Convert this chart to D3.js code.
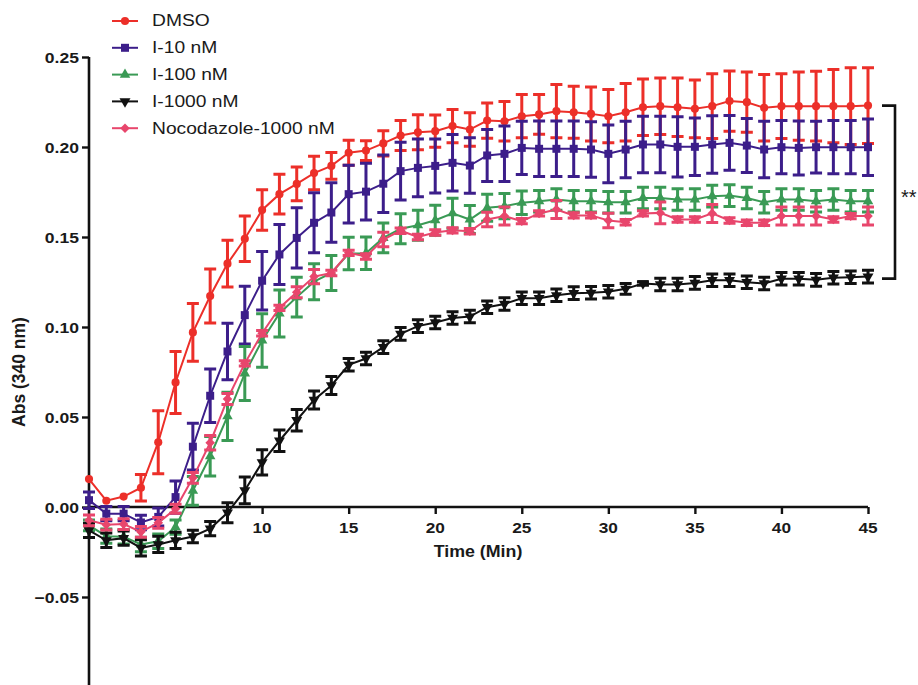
<!DOCTYPE html>
<html>
<head>
<meta charset="utf-8">
<script src="https://cdn.jsdelivr.net/npm/d3@7/dist/d3.min.js"></script>
<style>
  html, body { margin: 0; padding: 0; background: #fff; }
  svg { display: block; font-family: "Liberation Sans", Arial, sans-serif; }
</style>
</head>
<body>
<svg id="chart" width="918" height="685"></svg>
<script>
// Tubulin polymerization time course, absorbance at 340 nm (mean ± error)
const times = d3.range(0, 46); // minutes 0..45

const seriesNames = ["DMSO", "I-10 nM", "I-100 nM", "I-1000 nM", "Nocodazole-1000 nM"];

const dmso = [0.0155, 0.0035, 0.0058, 0.0107, 0.0360, 0.0692, 0.0970, 0.1172, 0.1352, 0.1490,
  0.1650, 0.1738, 0.1795, 0.1855, 0.1895, 0.1968, 0.1980, 0.2020, 0.2064, 0.2082,
  0.2088, 0.2116, 0.2097, 0.2147, 0.2143, 0.2171, 0.2181, 0.2199, 0.2193, 0.2184,
  0.2171, 0.2193, 0.2221, 0.2227, 0.2221, 0.2212, 0.2227, 0.2255, 0.2249, 0.2218,
  0.2227, 0.2227, 0.2227, 0.2227, 0.2227, 0.2230];
const dmsoErr = [0.0003, 0.0003, 0.0003, 0.0074, 0.0175, 0.0172, 0.0160, 0.0150, 0.0130, 0.0126,
  0.0113, 0.0110, 0.0094, 0.0093, 0.0074, 0.0070, 0.0055, 0.0070, 0.0083, 0.0097,
  0.0090, 0.0093, 0.0093, 0.0098, 0.0110, 0.0120, 0.0110, 0.0148, 0.0144, 0.0150,
  0.0148, 0.0160, 0.0157, 0.0157, 0.0163, 0.0160, 0.0180, 0.0167, 0.0167, 0.0185,
  0.0180, 0.0189, 0.0194, 0.0204, 0.0213, 0.0210];

const i10 = [0.0038, -0.0037, -0.0037, -0.0086, -0.0055, 0.0055, 0.0335, 0.0618, 0.0864, 0.1066,
  0.1257, 0.1403, 0.1495, 0.1579, 0.1636, 0.1738, 0.1752, 0.1796, 0.1866, 0.1884,
  0.1895, 0.1912, 0.1897, 0.1953, 0.1962, 0.1995, 0.1990, 0.1990, 0.1990, 0.1986,
  0.1962, 0.1986, 0.2014, 0.2014, 0.2001, 0.2001, 0.2014, 0.2023, 0.2008, 0.1986,
  0.1999, 0.1995, 0.1999, 0.1999, 0.1999, 0.1999];
const i10Err = [0.0046, 0.0040, 0.0040, 0.0040, 0.0050, 0.0090, 0.0130, 0.0148, 0.0157, 0.0161,
  0.0163, 0.0167, 0.0167, 0.0167, 0.0165, 0.0160, 0.0158, 0.0160, 0.0160, 0.0160,
  0.0150, 0.0157, 0.0154, 0.0144, 0.0154, 0.0148, 0.0154, 0.0154, 0.0154, 0.0154,
  0.0160, 0.0157, 0.0157, 0.0157, 0.0167, 0.0160, 0.0160, 0.0152, 0.0150, 0.0157,
  0.0148, 0.0150, 0.0144, 0.0148, 0.0148, 0.0157];

const i100 = [-0.0102, -0.0162, -0.0165, -0.0208, -0.0190, -0.0112, 0.0090, 0.0282, 0.0504, 0.0742,
  0.0925, 0.1075, 0.1166, 0.1252, 0.1300, 0.1408, 0.1410, 0.1495, 0.1546, 0.1565,
  0.1593, 0.1632, 0.1597, 0.1662, 0.1671, 0.1690, 0.1699, 0.1708, 0.1699, 0.1699,
  0.1693, 0.1693, 0.1717, 0.1717, 0.1708, 0.1708, 0.1727, 0.1730, 0.1717, 0.1693,
  0.1708, 0.1708, 0.1699, 0.1708, 0.1699, 0.1699];
const i100Err = [0.0030, 0.0040, 0.0040, 0.0040, 0.0040, 0.0040, 0.0080, 0.0110, 0.0134, 0.0150,
  0.0148, 0.0130, 0.0110, 0.0100, 0.0097, 0.0090, 0.0090, 0.0083, 0.0083, 0.0083,
  0.0083, 0.0083, 0.0078, 0.0075, 0.0070, 0.0065, 0.0060, 0.0060, 0.0060, 0.0060,
  0.0060, 0.0060, 0.0060, 0.0060, 0.0060, 0.0060, 0.0060, 0.0060, 0.0060, 0.0060,
  0.0060, 0.0060, 0.0060, 0.0060, 0.0060, 0.0060];

const i1000 = [-0.0130, -0.0185, -0.0173, -0.0227, -0.0208, -0.0185, -0.0164, -0.0120, -0.0032, 0.0092,
  0.0248, 0.0368, 0.0482, 0.0595, 0.0675, 0.0790, 0.0825, 0.0888, 0.0962, 0.1005,
  0.1025, 0.1050, 0.1058, 0.1110, 0.1128, 0.1160, 0.1160, 0.1176, 0.1188, 0.1190,
  0.1196, 0.1212, 0.1242, 0.1236, 0.1236, 0.1245, 0.1260, 0.1260, 0.1249, 0.1242,
  0.1268, 0.1268, 0.1262, 0.1274, 0.1276, 0.1280];
const i1000Err = [0.0040, 0.0040, 0.0040, 0.0045, 0.0045, 0.0045, 0.0035, 0.0040, 0.0056, 0.0074,
  0.0070, 0.0060, 0.0060, 0.0050, 0.0050, 0.0035, 0.0035, 0.0035, 0.0035, 0.0035,
  0.0035, 0.0035, 0.0035, 0.0035, 0.0035, 0.0035, 0.0035, 0.0035, 0.0035, 0.0035,
  0.0035, 0.0030, 0.0010, 0.0035, 0.0035, 0.0035, 0.0035, 0.0035, 0.0035, 0.0035,
  0.0035, 0.0035, 0.0035, 0.0035, 0.0035, 0.0035];

const noco = [-0.0074, -0.0098, -0.0095, -0.0138, -0.0088, -0.0010, 0.0162, 0.0357, 0.0600, 0.0798,
  0.0965, 0.1106, 0.1193, 0.1280, 0.1300, 0.1412, 0.1392, 0.1486, 0.1535, 0.1500,
  0.1525, 0.1537, 0.1532, 0.1597, 0.1616, 0.1588, 0.1631, 0.1653, 0.1620, 0.1620,
  0.1592, 0.1582, 0.1631, 0.1634, 0.1597, 0.1597, 0.1631, 0.1592, 0.1579, 0.1579,
  0.1616, 0.1616, 0.1616, 0.1597, 0.1616, 0.1616];
const nocoErr = [0.0030, 0.0030, 0.0030, 0.0030, 0.0030, 0.0025, 0.0030, 0.0040, 0.0030, 0.0015,
  0.0015, 0.0015, 0.0030, 0.0040, 0.0015, 0.0015, 0.0015, 0.0040, 0.0015, 0.0015,
  0.0015, 0.0015, 0.0015, 0.0040, 0.0050, 0.0015, 0.0015, 0.0050, 0.0015, 0.0015,
  0.0040, 0.0015, 0.0015, 0.0060, 0.0015, 0.0015, 0.0050, 0.0015, 0.0015, 0.0015,
  0.0050, 0.0050, 0.0050, 0.0015, 0.0015, 0.0050];

const yTicks = [-0.05, 0.00, 0.05, 0.10, 0.15, 0.20, 0.25];
const xTicks = [10, 15, 20, 25, 30, 35, 40, 45];
const significance = "**";

const colors = ["#ec2f29", "#3c1e8a", "#3a9a55", "#111111", "#e8466c"];
const symbols = [
  { type: d3.symbolCircle, size: 52, rotate: 0 },
  { type: d3.symbolSquare, size: 64, rotate: 0 },
  { type: d3.symbolTriangle, size: 48, rotate: 0 },
  { type: d3.symbolTriangle, size: 52, rotate: 180 },
  { type: d3.symbolSquare, size: 46, rotate: 45 }
];

const values = [dmso, i10, i100, i1000, noco];
const errors = [dmsoErr, i10Err, i100Err, i1000Err, nocoErr];
const series = seriesNames.map((name, k) => ({
  name,
  color: colors[k],
  symbol: symbols[k],
  points: times.map((t, i) => ({ t, v: values[k][i], e: errors[k][i] }))
}));

const svg = d3.select("#chart");

const x = d3.scaleLinear().domain([0, 45]).range([89, 868]);
const y = d3.scaleLinear().domain([-0.1, 0.25]).range([687, 57]);

// text drawn slightly widened, anchored at (tx, ty)
function wideText(g, tx, ty, str, opts) {
  const sx = opts.sx || 1.15;
  return g.append("text")
    .attr("transform", `translate(${tx},${ty}) scale(${sx},1)`)
    .attr("font-size", opts.size)
    .attr("font-weight", opts.weight || "normal")
    .attr("text-anchor", opts.anchor || "start")
    .attr("dominant-baseline", opts.baseline || "auto")
    .attr("fill", "#1a1a1a")
    .text(str);
}

// ---- axes
const yAxis = d3.axisLeft(y).tickValues(yTicks).tickSize(7).tickFormat(d3.format(".2f"));
const gy = svg.append("g").attr("transform", `translate(${x(0)},0)`).call(yAxis);
gy.select(".domain").attr("stroke", "#111").attr("stroke-width", 2.6).attr("d", `M0,${y(0.25)}V685`);
gy.selectAll(".tick line").attr("stroke", "#111").attr("stroke-width", 2.4);
gy.selectAll(".tick text").remove();
yTicks.forEach(v => {
  wideText(svg, x(0) - 10, y(v), d3.format(".2f")(v), { size: 15, weight: "bold", anchor: "end", baseline: "central", sx: 1.17 });
});

const xAxis = d3.axisBottom(x).tickValues(xTicks).tickSize(7).tickFormat(d3.format("d"));
const gx = svg.append("g").attr("transform", `translate(0,${y(0)})`).call(xAxis);
gx.select(".domain").attr("stroke", "#111").attr("stroke-width", 2.6).attr("d", `M${x(0)},0H${x(45)}`);
gx.selectAll(".tick line").attr("stroke", "#111").attr("stroke-width", 2.4);
gx.selectAll(".tick text").remove();
xTicks.forEach(v => {
  wideText(svg, x(v), y(0) + 15, String(v), { size: 15, weight: "bold", anchor: "middle", baseline: "hanging", sx: 1.15 });
});

wideText(svg, 478, 557, "Time (Min)", { size: 16.5, weight: "bold", anchor: "middle", sx: 1.08 });
svg.append("text")
  .attr("transform", "translate(25,372) rotate(-90)")
  .attr("font-size", 17.5)
  .attr("font-weight", "bold")
  .attr("text-anchor", "middle")
  .attr("fill", "#1a1a1a")
  .text("Abs (340 nm)");

// ---- data
const line = d3.line().x(d => x(d.t)).y(d => y(d.v));
const capW = 6;

series.forEach(s => {
  const g = svg.append("g").attr("class", "series");
  const eb = g.append("g");
  // error bars thinner than the marker are hidden behind it, so skip them
  s.points.filter(p => p.e >= 0.001).forEach(p => {
    const cx = x(p.t), y1 = y(p.v + p.e), y2 = y(p.v - p.e);
    eb.append("path")
      .attr("d", `M${cx},${y1}V${y2}M${cx - capW},${y1}H${cx + capW}M${cx - capW},${y2}H${cx + capW}`)
      .attr("stroke", s.color)
      .attr("stroke-width", 3)
      .attr("fill", "none");
  });
  g.append("path")
    .datum(s.points)
    .attr("d", line)
    .attr("fill", "none")
    .attr("stroke", s.color)
    .attr("stroke-width", 2);
  const sym = d3.symbol().type(s.symbol.type).size(s.symbol.size);
  g.selectAll("path.mk")
    .data(s.points)
    .join("path")
    .attr("class", "mk")
    .attr("d", sym)
    .attr("transform", d => `translate(${x(d.t)},${y(d.v)}) rotate(${s.symbol.rotate})`)
    .attr("fill", s.color);
});

// ---- significance bracket between DMSO and I-1000 nM at 45 min
const bTop = y(dmso[dmso.length - 1]);
const bBot = y(i1000[i1000.length - 1]) + 2;
svg.append("path")
  .attr("d", `M882,${bTop}H895V${bBot}H882`)
  .attr("fill", "none")
  .attr("stroke", "#111")
  .attr("stroke-width", 2.6);
svg.append("text")
  .attr("x", 901)
  .attr("y", (bTop + bBot) / 2 + 12)
  .attr("font-size", 20)
  .attr("fill", "#1a1a1a")
  .text(significance);

// ---- legend
const legend = svg.append("g");
series.forEach((s, k) => {
  const ly = 21 + k * 26.8;
  legend.append("line")
    .attr("x1", 112).attr("x2", 138).attr("y1", ly).attr("y2", ly)
    .attr("stroke", s.color).attr("stroke-width", 2);
  legend.append("path")
    .attr("d", d3.symbol().type(s.symbol.type).size(s.symbol.size)())
    .attr("transform", `translate(125,${ly}) rotate(${s.symbol.rotate})`)
    .attr("fill", s.color);
  wideText(legend, 152, ly, s.name, { size: 16.3, anchor: "start", baseline: "central", sx: 1.18 });
});
</script>
</body>
</html>
